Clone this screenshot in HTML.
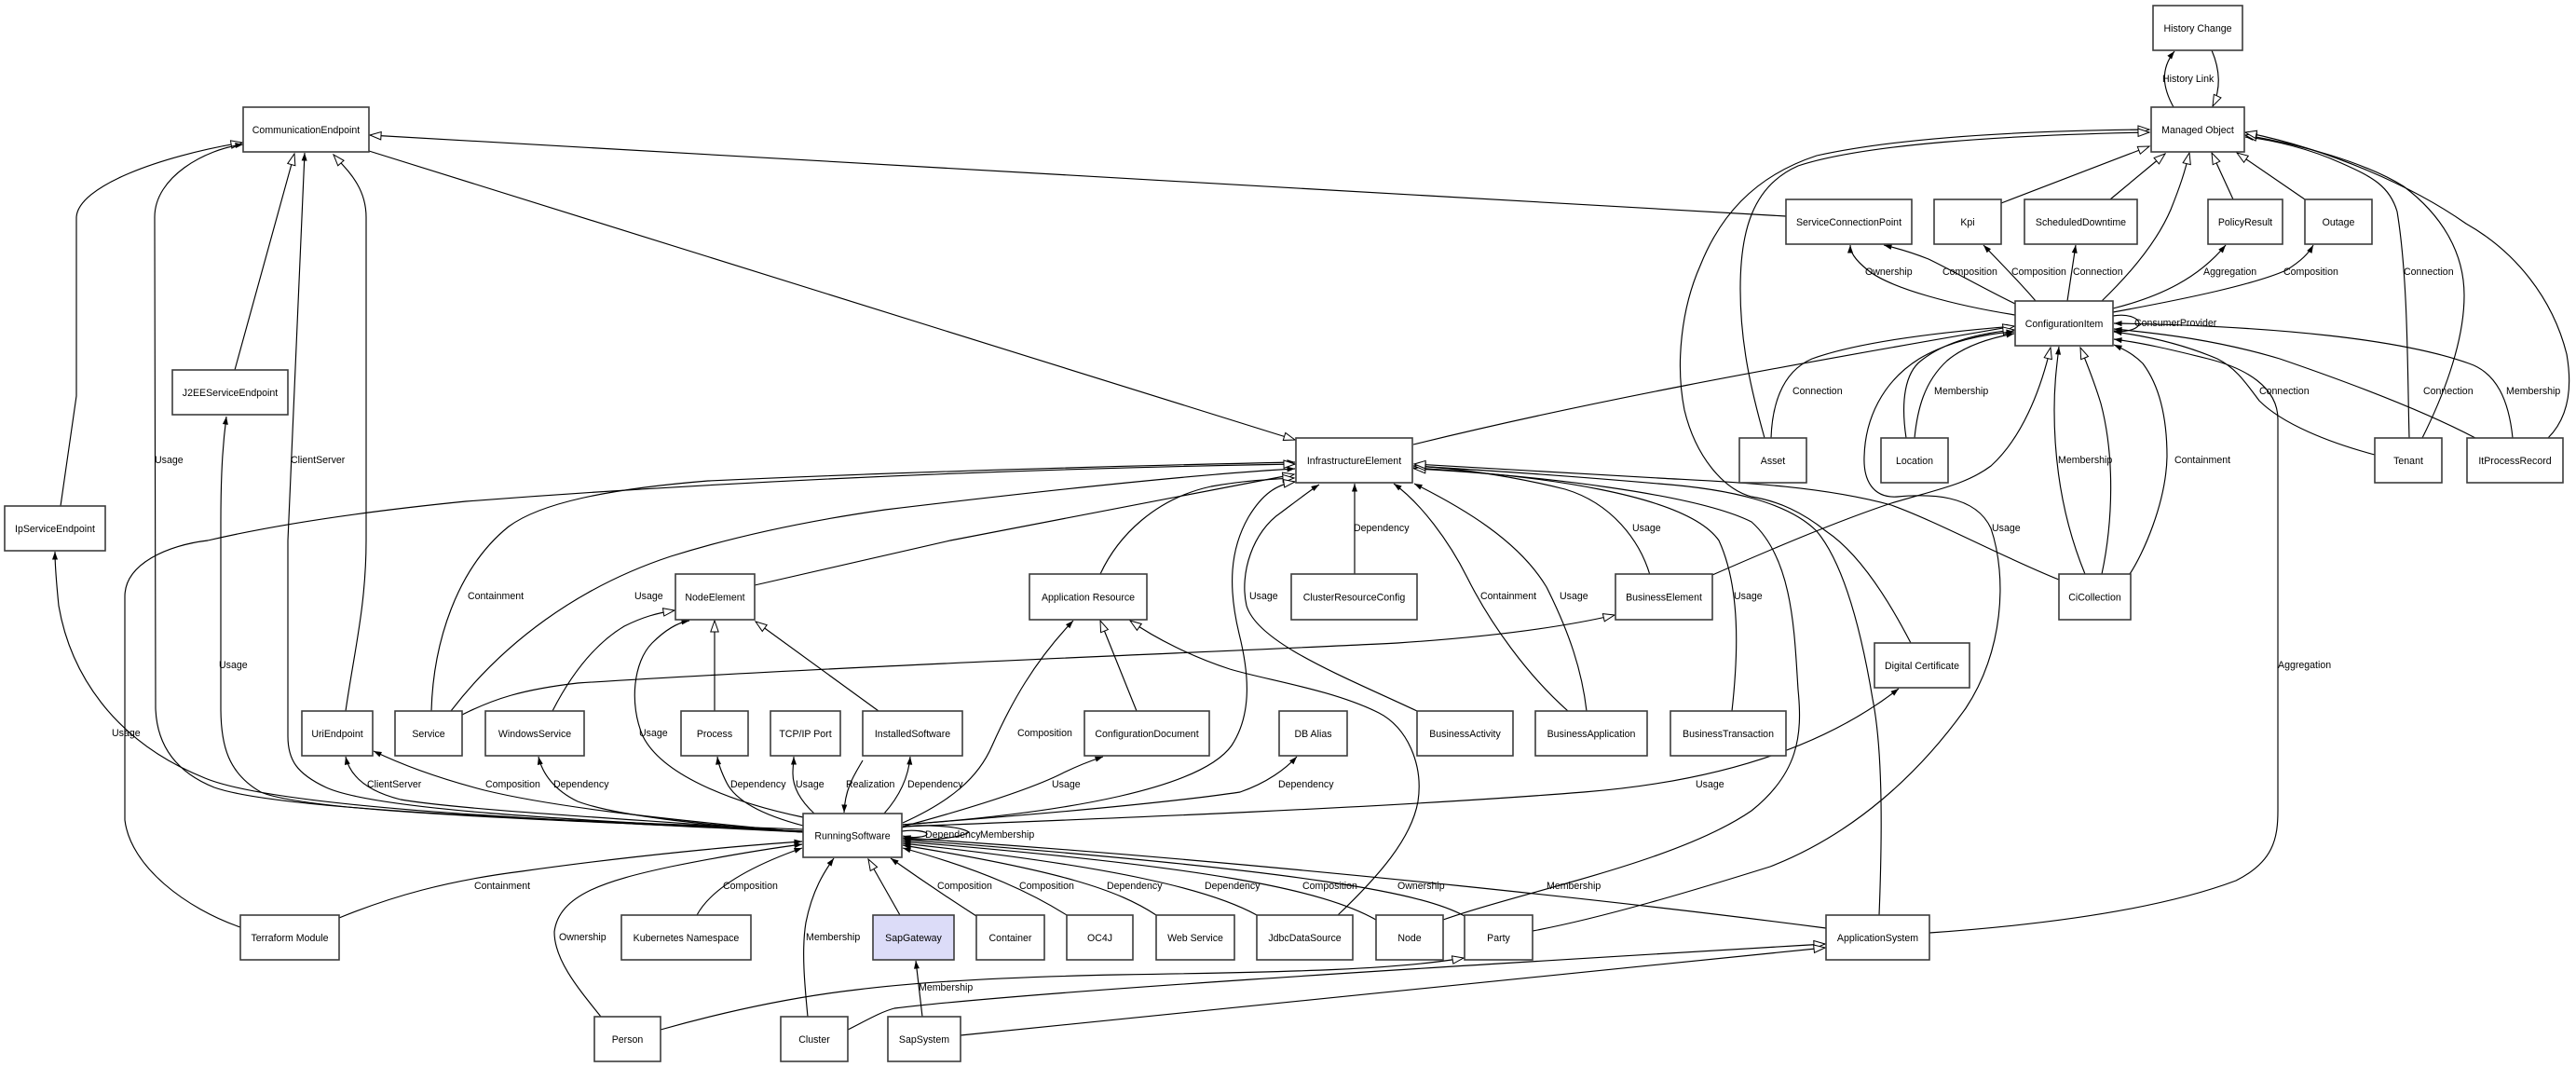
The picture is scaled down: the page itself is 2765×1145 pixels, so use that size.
<!DOCTYPE html>
<html><head><meta charset="utf-8"><style>
html,body{margin:0;padding:0;background:#fff;}
svg{display:block;}
text{font-family:"Liberation Sans",Arial,sans-serif;font-size:10.6px;fill:#000;}
.n rect{fill:#fff;stroke:#3c3c3c;stroke-width:1.6;}
.e path{fill:none;stroke:#000;stroke-width:1.15;}
</style></head><body>
<svg width="2765" height="1145" viewBox="0 0 2765 1145" xmlns="http://www.w3.org/2000/svg">
<defs>
<marker id="f" markerWidth="10" markerHeight="8" refX="8.5" refY="3" orient="auto" markerUnits="userSpaceOnUse" overflow="visible"><path d="M0,0 L8.5,3 L0,6 z" fill="#000" stroke="none"/></marker>
<marker id="h" markerWidth="14" markerHeight="11" refX="12.5" refY="4.5" orient="auto" markerUnits="userSpaceOnUse" overflow="visible"><path d="M0.5,0.3 L12.5,4.5 L0.5,8.7 z" fill="#fff" stroke="#000" stroke-width="1"/></marker>
</defs>
<rect x="0" y="0" width="2765" height="1145" fill="#fff"/>

<g class="e">
<!-- top-left group -->
<path d="M65,543 L82,425 L82,233 C84,200 170,168 260,153" marker-end="url(#h)"/>
<path d="M862,890 C600,880 300,870 230,845 C180,825 168,790 167,760 L166,233 C166,190 220,160 261,155" marker-end="url(#f)"/>
<path d="M862,892 C600,880 330,872 280,850 C245,830 237,800 237,760 L237,560 C237,500 240,470 243,447" marker-end="url(#f)"/>
<path d="M862,892 C600,880 400,868 350,845 C318,830 309,815 309,790 L309,580 L327,164" marker-end="url(#f)"/>
<path d="M371,763 C380,700 393,650 393,580 L393,233 C393,200 372,182 358,166" marker-end="url(#h)"/>
<path d="M252,397 L316,165" marker-end="url(#h)"/>
<path d="M1917,232 L397,145" marker-end="url(#h)"/>
<path d="M396,162 L1390,472" marker-end="url(#h)"/>

<!-- IE left -->
<path d="M463,763 C465,690 490,610 546,565 C580,540 650,525 760,516 C1000,505 1250,499 1390,496" marker-end="url(#f)"/>
<path d="M258,995 C200,975 140,930 134,880 L134,640 C134,605 180,585 223,580 C300,562 400,548 500,538 C800,515 1100,503 1390,498" marker-end="url(#h)"/>
<path d="M484,763 C540,690 620,630 720,597 C800,572 880,557 950,547 C1150,523 1300,508 1390,503" marker-end="url(#f)"/>
<path d="M810,628 L1020,580 C1200,545 1330,520 1389,509" marker-end="url(#h)"/>
<path d="M1181,616 C1200,575 1240,535 1300,522 C1340,515 1370,514 1389,513" marker-end="url(#h)"/>
<path d="M969,885 C1150,872 1290,845 1322,800 C1345,765 1340,720 1330,680 C1318,630 1320,590 1340,555 C1355,530 1370,520 1390,517" marker-end="url(#h)"/>
<path d="M1521,763 C1440,725 1350,690 1338,650 C1330,615 1345,570 1375,550 C1395,535 1408,525 1416,520" marker-end="url(#f)"/>
<path d="M1454,616 L1454,519" marker-end="url(#f)"/>
<path d="M1683,763 C1640,725 1600,670 1575,620 C1555,580 1525,540 1496,519" marker-end="url(#f)"/>
<path d="M1703,763 C1698,720 1685,680 1660,630 C1630,580 1570,545 1518,519" marker-end="url(#f)"/>
<path d="M1771,617 C1760,580 1730,540 1680,525 C1620,510 1560,502 1517,500" marker-end="url(#f)"/>
<path d="M1859,763 C1866,700 1868,630 1845,580 C1810,530 1650,510 1517,502" marker-end="url(#f)"/>
<path d="M1549,987 C1640,955 1800,925 1880,870 C1930,830 1935,790 1930,740 C1926,680 1925,600 1880,560 C1820,530 1650,510 1518,503" marker-end="url(#h)"/>
<path d="M2017,982 C2021,880 2020,800 2010,750 C1995,660 1975,600 1950,570 C1920,540 1860,525 1780,519 C1700,512 1600,505 1518,500" marker-end="url(#h)"/>
<path d="M2210,622 C2150,598 2080,560 2030,542 C1950,520 1850,517 1780,513 C1650,505 1560,500 1518,498" marker-end="url(#h)"/>

<!-- Managed object area -->
<path d="M2051,690 C2020,630 1990,590 1960,570 C1935,550 1910,538 1880,533 C1850,525 1820,490 1808,440 C1798,390 1805,330 1825,285 C1845,235 1880,190 1950,167 C2050,145 2200,140 2307,139" marker-end="url(#h)"/>
<path d="M1894,470 C1880,420 1868,370 1868,310 C1868,250 1880,200 1930,178 C2000,155 2150,145 2307,142" marker-end="url(#h)"/>
<path d="M1901,470 C1902,440 1910,400 1945,385 C2000,365 2100,355 2162,350" marker-end="url(#f)"/>
<path d="M1517,477 C1700,432 1900,395 2162,350" marker-end="url(#h)"/>
<path d="M2046,470 C2040,430 2045,400 2062,387 C2090,365 2130,357 2162,354" marker-end="url(#h)"/>
<path d="M2055,470 C2058,440 2065,410 2090,387 C2110,370 2140,362 2162,358" marker-end="url(#f)"/>
<path d="M1645,999 C1720,985 1820,955 1900,930 C1990,895 2060,830 2110,760 C2150,700 2155,620 2137,567 C2120,530 2070,530 2037,533 C2010,535 2000,515 2001,490 C2002,450 2020,410 2060,385 C2090,367 2130,358 2162,356" marker-end="url(#f)"/>
<path d="M1838,617 C1900,590 1970,560 2030,540 C2080,525 2110,520 2137,500 C2170,470 2190,420 2201,373" marker-end="url(#h)"/>
<path d="M2238,616 C2215,560 2205,500 2205,440 C2205,410 2208,390 2210,372" marker-end="url(#f)"/>
<path d="M2256,616 C2268,560 2270,490 2255,433 C2248,410 2240,390 2233,373" marker-end="url(#h)"/>
<path d="M2286,616 C2300,595 2325,540 2326,490 C2326,440 2315,410 2300,390 C2290,380 2280,375 2269,370" marker-end="url(#f)"/>
<path d="M2071,1001 C2200,992 2320,975 2400,945 C2440,925 2445,900 2445,870 L2445,450 C2445,415 2410,395 2370,385 C2330,375 2300,368 2269,364" marker-end="url(#f)"/>
<path d="M2163,338 C2100,328 2030,310 2005,290 C1990,278 1986,270 1986,263" marker-end="url(#f)"/>
<path d="M2163,326 C2130,310 2095,290 2070,278 C2050,270 2035,266 2022,263" marker-end="url(#f)"/>
<path d="M2185,323 C2170,305 2150,285 2129,263" marker-end="url(#f)"/>
<path d="M2219,323 L2228,263" marker-end="url(#f)"/>
<path d="M2256,323 C2285,295 2315,260 2330,225 C2340,200 2345,185 2350,164" marker-end="url(#h)"/>
<path d="M2268,331 C2320,318 2360,298 2389,263" marker-end="url(#f)"/>
<path d="M2268,335 C2350,320 2420,305 2454,290 C2470,280 2478,272 2483,263" marker-end="url(#f)"/>
<path d="M2148,218 L2307,157" marker-end="url(#h)"/>
<path d="M2265,214 L2324,165" marker-end="url(#h)"/>
<path d="M2397,214 L2374,164" marker-end="url(#h)"/>
<path d="M2474,214 L2401,164" marker-end="url(#h)"/>
<path d="M2333,115 C2322,95 2318,75 2334,55" marker-end="url(#f)"/>
<path d="M2374,54 C2383,75 2384,95 2375,114" marker-end="url(#h)"/>
<path d="M2268,339 C2285,336 2296,342 2296,347 C2296,352 2285,357 2269,355" marker-end="url(#f)"/>
<path d="M2586,470 C2584,400 2585,300 2573,227 C2565,200 2547,190 2513,175 C2480,160 2440,150 2410,147" marker-end="url(#f)"/>
<path d="M2600,470 C2620,430 2645,370 2645,317 C2645,270 2620,230 2580,200 C2540,175 2470,155 2410,145" marker-end="url(#h)"/>
<path d="M2735,470 C2755,450 2762,420 2755,380 C2740,320 2700,270 2647,240 C2590,200 2500,160 2410,142" marker-end="url(#h)"/>
<path d="M2697,470 C2693,430 2680,400 2650,390 C2580,365 2450,350 2269,347" marker-end="url(#f)"/>
<path d="M2657,470 C2600,440 2520,410 2447,385 C2380,365 2320,358 2269,353" marker-end="url(#f)"/>
<path d="M2549,488 C2500,475 2450,455 2425,430 C2410,410 2400,395 2380,385 C2340,368 2300,360 2269,356" marker-end="url(#f)"/>

<!-- RunningSoftware group -->
<path d="M862,893 C600,880 300,868 220,835 C120,795 75,720 63,650 C60,620 59,605 59,592" marker-end="url(#f)"/>
<path d="M862,893 C700,880 500,870 430,858 C390,848 375,830 371,812" marker-end="url(#f)"/>
<path d="M862,893 C700,878 590,865 520,848 C470,835 430,820 401,806" marker-end="url(#f)"/>
<path d="M862,893 C750,885 660,875 620,860 C595,848 582,830 578,812" marker-end="url(#f)"/>
<path d="M593,763 C615,720 640,690 670,672 C690,662 705,658 724,655" marker-end="url(#h)"/>
<path d="M496,767 C530,750 560,740 620,733 C900,715 1300,700 1500,690 C1620,682 1690,670 1733,660" marker-end="url(#h)"/>
<path d="M767,763 L767,666" marker-end="url(#h)"/>
<path d="M943,763 L811,667" marker-end="url(#h)"/>
<path d="M862,877 C780,860 710,830 690,790 C675,755 680,710 700,690 C715,675 728,668 740,666" marker-end="url(#f)"/>
<path d="M862,886 C820,875 790,860 780,840 C774,828 771,820 770,812" marker-end="url(#f)"/>
<path d="M874,873 C860,860 851,845 851,830 C851,822 852,817 852,812" marker-end="url(#f)"/>
<path d="M926,816 C918,830 907,845 906,872" marker-end="url(#f)"/>
<path d="M949,873 C965,855 975,835 977,812" marker-end="url(#f)"/>
<path d="M969,883 C1020,860 1050,835 1065,800 C1085,755 1110,710 1152,666" marker-end="url(#f)"/>
<path d="M1220,763 L1181,666" marker-end="url(#h)"/>
<path d="M1436,982 C1480,940 1515,900 1522,860 C1528,820 1510,780 1480,765 C1430,740 1360,730 1320,718 C1280,705 1240,685 1213,666" marker-end="url(#h)"/>
<path d="M969,887 C1050,865 1110,845 1140,830 C1160,820 1175,815 1184,812" marker-end="url(#f)"/>
<path d="M969,885 C1100,875 1250,862 1331,850 C1360,840 1380,825 1392,812" marker-end="url(#f)"/>
<path d="M969,887 C1200,878 1500,866 1700,850 C1850,838 1960,800 2038,739" marker-end="url(#f)"/>
<path d="M968,888 C985,884 1030,886 1040,893 C1030,900 985,903 969,899" marker-end="url(#f)"/>
<path d="M968,892 C980,890 995,892 995,895 C995,898 980,900 969,897" marker-end="url(#f)"/>
<path d="M1048,983 C1020,965 990,945 956,921" marker-end="url(#f)"/>
<path d="M966,982 L932,922" marker-end="url(#h)"/>
<path d="M1145,982 C1110,960 1060,935 969,910" marker-end="url(#f)"/>
<path d="M1241,982 C1200,955 1140,935 969,907" marker-end="url(#f)"/>
<path d="M1349,982 C1300,955 1200,930 969,905" marker-end="url(#f)"/>
<path d="M1477,987 C1420,955 1300,930 969,903" marker-end="url(#f)"/>
<path d="M1572,983 C1530,960 1420,935 969,901" marker-end="url(#f)"/>
<path d="M1960,996 C1800,975 1400,928 969,899" marker-end="url(#f)"/>
<path d="M364,985 C420,962 480,945 560,935 C680,918 800,907 861,903" marker-end="url(#f)"/>
<path d="M748,982 C760,960 790,935 861,910" marker-end="url(#f)"/>
<path d="M645,1091 C620,1060 595,1030 595,1000 C600,960 650,945 720,930 C780,918 830,910 861,906" marker-end="url(#f)"/>
<path d="M867,1091 C864,1060 860,1020 865,990 C872,955 885,935 895,921" marker-end="url(#f)"/>
<path d="M709,1105 C780,1085 850,1070 920,1062 C1000,1052 1100,1048 1200,1046 C1400,1043 1500,1040 1571,1028" marker-end="url(#h)"/>
<path d="M910,1105 C930,1095 945,1086 960,1082 C1100,1065 1500,1040 1959,1013" marker-end="url(#h)"/>
<path d="M1031,1111 L1959,1017" marker-end="url(#h)"/>
<path d="M990,1091 L983,1031" marker-end="url(#f)"/>
</g>

<g class="n">
<rect x="2311" y="6" width="96" height="48"/><text x="2359" y="34" text-anchor="middle">History Change</text>
<rect x="2309" y="115" width="100" height="48"/><text x="2359" y="143" text-anchor="middle">Managed Object</text>
<rect x="261" y="115" width="135" height="48"/><text x="328.5" y="143" text-anchor="middle">CommunicationEndpoint</text>
<rect x="1917" y="214" width="135" height="48"/><text x="1984.5" y="242" text-anchor="middle">ServiceConnectionPoint</text>
<rect x="2076" y="214" width="72" height="48"/><text x="2112" y="242" text-anchor="middle">Kpi</text>
<rect x="2173" y="214" width="121" height="48"/><text x="2233.5" y="242" text-anchor="middle">ScheduledDowntime</text>
<rect x="2370" y="214" width="80" height="48"/><text x="2410" y="242" text-anchor="middle">PolicyResult</text>
<rect x="2474" y="214" width="72" height="48"/><text x="2510" y="242" text-anchor="middle">Outage</text>
<rect x="2163" y="323" width="105" height="48"/><text x="2215.5" y="351" text-anchor="middle">ConfigurationItem</text>
<rect x="185" y="397" width="124" height="48"/><text x="247" y="425" text-anchor="middle">J2EEServiceEndpoint</text>
<rect x="1391" y="470" width="125" height="48"/><text x="1453.5" y="498" text-anchor="middle">InfrastructureElement</text>
<rect x="1867" y="470" width="72" height="48"/><text x="1903" y="498" text-anchor="middle">Asset</text>
<rect x="2019" y="470" width="72" height="48"/><text x="2055" y="498" text-anchor="middle">Location</text>
<rect x="2549" y="470" width="72" height="48"/><text x="2585" y="498" text-anchor="middle">Tenant</text>
<rect x="2648" y="470" width="103" height="48"/><text x="2699.5" y="498" text-anchor="middle">ItProcessRecord</text>
<rect x="5" y="543" width="108" height="48"/><text x="59" y="571" text-anchor="middle">IpServiceEndpoint</text>
<rect x="725" y="616" width="85" height="49"/><text x="767.5" y="644.5" text-anchor="middle">NodeElement</text>
<rect x="1105" y="616" width="126" height="49"/><text x="1168" y="644.5" text-anchor="middle">Application Resource</text>
<rect x="1386" y="616" width="135" height="49"/><text x="1453.5" y="644.5" text-anchor="middle">ClusterResourceConfig</text>
<rect x="1734" y="616" width="104" height="49"/><text x="1786" y="644.5" text-anchor="middle">BusinessElement</text>
<rect x="2210" y="616" width="77" height="49"/><text x="2248.5" y="644.5" text-anchor="middle">CiCollection</text>
<rect x="2012" y="690" width="102" height="48"/><text x="2063" y="718" text-anchor="middle">Digital Certificate</text>
<rect x="324" y="763" width="76" height="48"/><text x="362" y="791" text-anchor="middle">UriEndpoint</text>
<rect x="424" y="763" width="72" height="48"/><text x="460" y="791" text-anchor="middle">Service</text>
<rect x="521" y="763" width="106" height="48"/><text x="574" y="791" text-anchor="middle">WindowsService</text>
<rect x="731" y="763" width="72" height="48"/><text x="767" y="791" text-anchor="middle">Process</text>
<rect x="827" y="763" width="75" height="48"/><text x="864.5" y="791" text-anchor="middle">TCP/IP Port</text>
<rect x="926" y="763" width="107" height="48"/><text x="979.5" y="791" text-anchor="middle">InstalledSoftware</text>
<rect x="1164" y="763" width="134" height="48"/><text x="1231" y="791" text-anchor="middle">ConfigurationDocument</text>
<rect x="1373" y="763" width="73" height="48"/><text x="1409.5" y="791" text-anchor="middle">DB Alias</text>
<rect x="1521" y="763" width="103" height="48"/><text x="1572.5" y="791" text-anchor="middle">BusinessActivity</text>
<rect x="1648" y="763" width="120" height="48"/><text x="1708" y="791" text-anchor="middle">BusinessApplication</text>
<rect x="1793" y="763" width="124" height="48"/><text x="1855" y="791" text-anchor="middle">BusinessTransaction</text>
<rect x="862" y="873" width="106" height="47"/><text x="915" y="900.5" text-anchor="middle">RunningSoftware</text>
<rect x="258" y="982" width="106" height="48"/><text x="311" y="1010" text-anchor="middle">Terraform Module</text>
<rect x="667" y="982" width="139" height="48"/><text x="736.5" y="1010" text-anchor="middle">Kubernetes Namespace</text>
<rect x="937" y="982" width="87" height="48" style="fill:#dcdcf8"/><text x="980.5" y="1010" text-anchor="middle">SapGateway</text>
<rect x="1048" y="982" width="73" height="48"/><text x="1084.5" y="1010" text-anchor="middle">Container</text>
<rect x="1145" y="982" width="71" height="48"/><text x="1180.5" y="1010" text-anchor="middle">OC4J</text>
<rect x="1241" y="982" width="84" height="48"/><text x="1283" y="1010" text-anchor="middle">Web Service</text>
<rect x="1349" y="982" width="103" height="48"/><text x="1400.5" y="1010" text-anchor="middle">JdbcDataSource</text>
<rect x="1477" y="982" width="72" height="48"/><text x="1513" y="1010" text-anchor="middle">Node</text>
<rect x="1572" y="982" width="73" height="48"/><text x="1608.5" y="1010" text-anchor="middle">Party</text>
<rect x="1960" y="982" width="111" height="48"/><text x="2015.5" y="1010" text-anchor="middle">ApplicationSystem</text>
<rect x="638" y="1091" width="71" height="48"/><text x="673.5" y="1119" text-anchor="middle">Person</text>
<rect x="838" y="1091" width="72" height="48"/><text x="874" y="1119" text-anchor="middle">Cluster</text>
<rect x="953" y="1091" width="78" height="48"/><text x="992" y="1119" text-anchor="middle">SapSystem</text>
</g>

<g>
<text x="2321" y="88">History Link</text>
<text x="2002" y="295">Ownership</text>
<text x="2085" y="295">Composition</text>
<text x="2159" y="295">Composition</text>
<text x="2225" y="295">Connection</text>
<text x="2365" y="295">Aggregation</text>
<text x="2451" y="295">Composition</text>
<text x="2580" y="295">Connection</text>
<text x="2291" y="350">ConsumerProvider</text>
<text x="1924" y="423">Connection</text>
<text x="2076" y="423">Membership</text>
<text x="2425" y="423">Connection</text>
<text x="2601" y="423">Connection</text>
<text x="2690" y="423">Membership</text>
<text x="166" y="497">Usage</text>
<text x="312" y="497">ClientServer</text>
<text x="2209" y="497">Membership</text>
<text x="2334" y="497">Containment</text>
<text x="1453" y="570">Dependency</text>
<text x="1752" y="570">Usage</text>
<text x="2138" y="570">Usage</text>
<text x="502" y="643">Containment</text>
<text x="681" y="643">Usage</text>
<text x="1341" y="643">Usage</text>
<text x="1589" y="643">Containment</text>
<text x="1674" y="643">Usage</text>
<text x="1861" y="643">Usage</text>
<text x="235" y="717">Usage</text>
<text x="2445" y="717">Aggregation</text>
<text x="120" y="790">Usage</text>
<text x="686" y="790">Usage</text>
<text x="1092" y="790">Composition</text>
<text x="394" y="845">ClientServer</text>
<text x="521" y="845">Composition</text>
<text x="594" y="845">Dependency</text>
<text x="784" y="845">Dependency</text>
<text x="854" y="845">Usage</text>
<text x="908" y="845">Realization</text>
<text x="974" y="845">Dependency</text>
<text x="1129" y="845">Usage</text>
<text x="1372" y="845">Dependency</text>
<text x="1820" y="845">Usage</text>
<text x="993" y="899">Dependency</text>
<text x="1052" y="899">Membership</text>
<text x="509" y="954">Containment</text>
<text x="776" y="954">Composition</text>
<text x="1006" y="954">Composition</text>
<text x="1094" y="954">Composition</text>
<text x="1188" y="954">Dependency</text>
<text x="1293" y="954">Dependency</text>
<text x="1398" y="954">Composition</text>
<text x="1500" y="954">Ownership</text>
<text x="1660" y="954">Membership</text>
<text x="600" y="1009">Ownership</text>
<text x="865" y="1009">Membership</text>
<text x="986" y="1063">Membership</text>
</g>
</svg>
</body></html>
